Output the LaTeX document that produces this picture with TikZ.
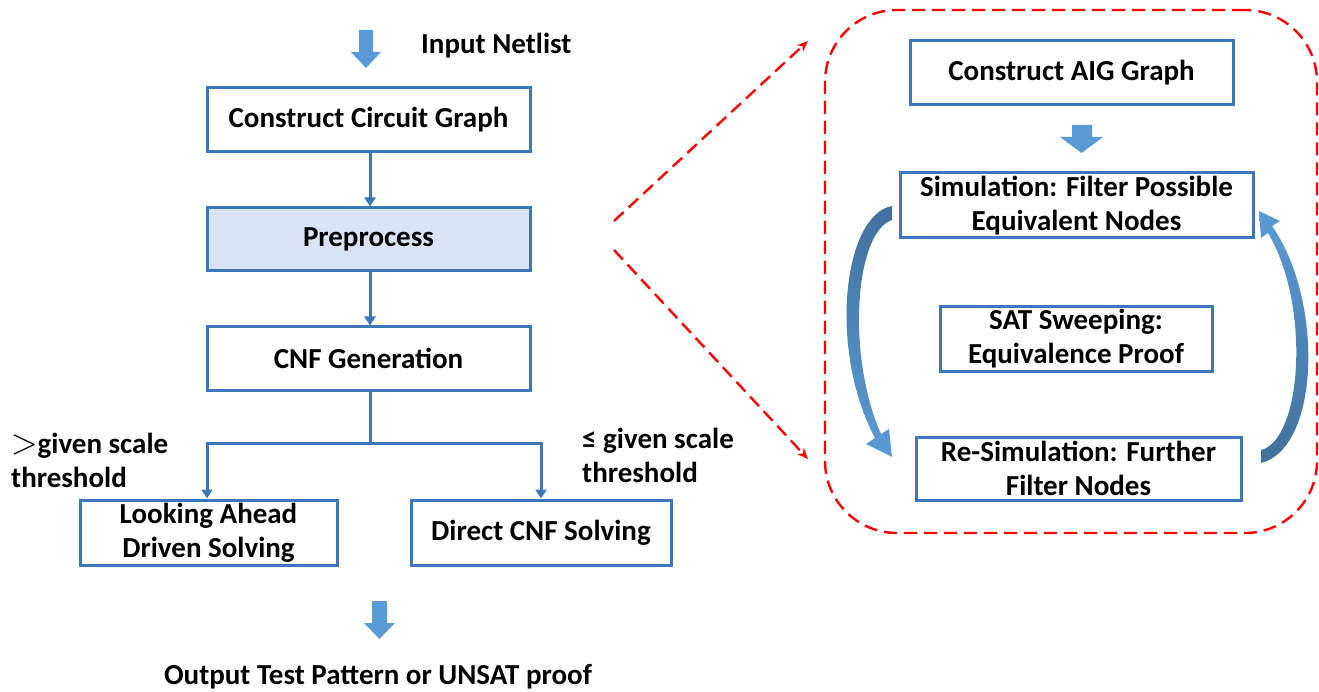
\documentclass[tikz,border=0pt]{standalone}
\usepackage{fontspec}
\setmainfont{Carlito}
\usetikzlibrary{arrows.meta,calc}

\definecolor{boxblue}{HTML}{3A78B8}
\definecolor{arrowblue}{HTML}{5B9BD5}
\definecolor{darkarrow}{HTML}{41719C}
\definecolor{prefill}{HTML}{DAE3F3}

\tikzset{
  every node/.style={font=\fontsize{29}{34}\selectfont\bfseries},
  flowbox/.style={draw=boxblue, line width=3pt, fill=white, rectangle,
    align=center, inner sep=0pt},
  flowline/.style={draw=boxblue, line width=3pt,
    -{Triangle[length=9pt,width=11pt]}},
  plainline/.style={draw=boxblue, line width=3pt},
  zoomline/.style={draw=red, line width=2.4pt, dash pattern=on 13pt off 7pt,
    -{Stealth[length=11pt,width=9pt]}},
  blockarrow/.style={fill=arrowblue, draw=none},
  txt/.style={inner sep=0pt}
}

\begin{document}
\begin{tikzpicture}[x=1pt,y=-1pt]
\useasboundingbox (0,0) rectangle (1319,692);

% ---------- main flow ----------
\node[flowbox, minimum width=323pt, minimum height=64pt] (ccg) at (368.5,120) {Construct Circuit Graph};
\node[flowbox, fill=prefill, minimum width=323pt, minimum height=63pt] (pre) at (368.5,239.5) {Preprocess};
\node[flowbox, minimum width=323pt, minimum height=63pt] (cnf) at (368.5,358.5) {CNF Generation};
\node[flowbox, minimum width=257pt, minimum height=65pt] (look) at (208.5,532.5) {Looking Ahead\\Driven Solving};
\node[flowbox, minimum width=260pt, minimum height=65pt] (direct) at (541,532.5) {Direct CNF Solving};

\node[txt, anchor=west] (input) at (421,46) {Input Netlist};
\node[txt] (output) at (378,677) {Output Test Pattern or UNSAT proof};
\node[txt, anchor=west, align=left] (gt) at (11,460)
  {{\fontspec{Latin Modern Math}\mdseries\fontsize{34}{34}\selectfont >}given scale\\threshold};
\node[txt, anchor=west, align=left] (le) at (582,455)
  {≤ given scale\\threshold};

% block arrows above and below the flow
\fill[blockarrow] (359,30) -- (373,30) -- (373,52) -- (381,52) -- (366,68)
  -- (351,52) -- (359,52) -- cycle;
\fill[blockarrow] (372,601) -- (387,601) -- (387,623) -- (395,623) -- (379.5,639)
  -- (364,623) -- (372,623) -- cycle;

% connectors
\draw[flowline] ($(ccg.south)+(1.5,0)$) -- ($(pre.north)+(1.5,0)$);
\draw[flowline] ($(pre.south)+(1.5,0)$) -- ($(cnf.north)+(1.5,0)$);
\coordinate (split) at (370,443);
\draw[plainline] ($(cnf.south)+(1.5,0)$) -- (split);
\draw[flowline] (split) -| ($(look.north)+(-1.5,0)$);
\draw[flowline] (split) -| (direct.north);

% ---------- detailed view ----------
\node[draw=red, line width=2.4pt, dash pattern=on 13pt off 7pt, rounded corners=72pt,
  minimum width=492pt, minimum height=523pt, inner sep=0pt] (detail) at (1071,271.5) {};

\coordinate (za) at (614,221);
\coordinate (zb) at (614,250);
\coordinate (zc) at (808,41);
\coordinate (zd) at (808,459);
\draw[zoomline] (za) -- (zc);
\draw[zoomline] (zb) -- (zd);

\node[flowbox, minimum width=323pt, minimum height=64pt] (aig) at (1071.5,73) {Construct AIG Graph};
\node[flowbox, minimum width=353pt, minimum height=65pt] (sim) at (1076.5,205.5) {Simulation: Filter Possible\\Equivalent Nodes};
\node[flowbox, minimum width=272pt, minimum height=64pt] (sat) at (1076,339) {SAT Sweeping:\\Equivalence Proof};
\node[flowbox, minimum width=325pt, minimum height=63pt] (resim) at (1078.5,468.5) {Re-Simulation: Further\\Filter Nodes};

\fill[blockarrow] (1072,125) -- (1092,125) -- (1092,137) -- (1103,137) -- (1081.5,153)
  -- (1060,137) -- (1072,137) -- cycle;

% curved loop arrows between simulation steps
\shade[top color=darkarrow, bottom color=arrowblue]
  (892,206) .. controls (843,215) and (828,350) .. (875,438)
  -- (866,444) -- (892,457) -- (889,429) -- (881,434)
  .. controls (846,355) and (855,232) .. (892,220) -- cycle;
\shade[top color=arrowblue, bottom color=darkarrow]
  (1261,463) .. controls (1320,448) and (1324,300) .. (1272,226)
  -- (1280,221) -- (1259,211) -- (1261,238) -- (1268,233)
  .. controls (1311,305) and (1302,440) .. (1261,450) -- cycle;

\end{tikzpicture}
\end{document}
